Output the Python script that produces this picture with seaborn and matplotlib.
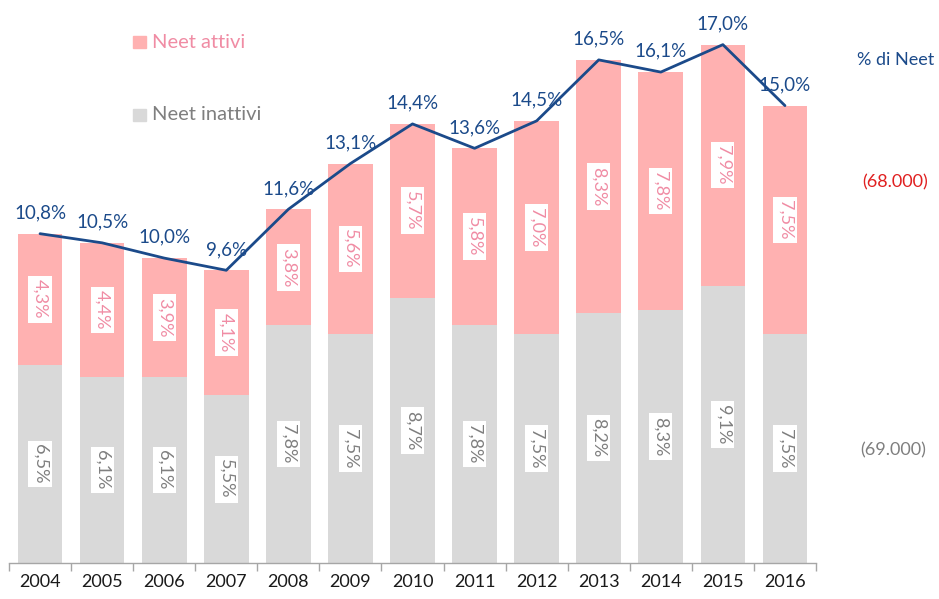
import matplotlib
matplotlib.use("Agg")
import matplotlib.pyplot as plt
import seaborn as sns
import pandas as pd
import numpy as np
from matplotlib.patches import Rectangle

years = ["2004", "2005", "2006", "2007", "2008", "2009", "2010", "2011", "2012", "2013", "2014", "2015", "2016"]
inattivi = [6.5, 6.1, 6.1, 5.5, 7.8, 7.5, 8.7, 7.8, 7.5, 8.2, 8.3, 9.1, 7.5]
attivi = [4.3, 4.4, 3.9, 4.1, 3.8, 5.6, 5.7, 5.8, 7.0, 8.3, 7.8, 7.9, 7.5]
neet = [10.8, 10.5, 10.0, 9.6, 11.6, 13.1, 14.4, 13.6, 14.5, 16.5, 16.1, 17.0, 15.0]

PINK = "#FFB1B1"
GRAY = "#D9D9D9"
PINK_TXT = "#F08CA4"
GRAY_TXT = "#7F7F7F"
BLUE = "#1B4A8A"
FONT = "Lato"

sns.set_theme(style="white")
plt.rcParams["font.family"] = [FONT, "DejaVu Sans"]

def fmt(v):
    return f"{v:.1f}".replace(".", ",") + "%"

df = pd.DataFrame({"year": years, "inattivi": inattivi, "attivi": attivi,
                   "total": np.array(inattivi) + np.array(attivi), "neet": neet})

fig = plt.figure(figsize=(9.39, 5.99), dpi=100)
ax = fig.add_axes([9/939, 36/599, (816-9)/939, (563-5)/599])

sns.barplot(data=df, x="year", y="total", color=PINK, width=0.72, ax=ax,
            saturation=1, linewidth=0)
sns.barplot(data=df, x="year", y="inattivi", color=GRAY, width=0.72, ax=ax,
            saturation=1, linewidth=0)

x = np.arange(len(years))
ax.plot(x, df["neet"], color=BLUE, lw=2, zorder=5)

for i in range(len(years)):
    ax.text(i, neet[i] + 0.68, fmt(neet[i]), ha="center", va="center",
            fontsize=13.5, color=BLUE, zorder=6)
    ax.text(i, inattivi[i] / 2, fmt(inattivi[i]), ha="center", va="center",
            rotation=270, fontsize=13, color=GRAY_TXT, zorder=4,
            bbox=dict(boxstyle="square,pad=0.2", fc="white", ec="none"))
    ax.text(i, inattivi[i] + attivi[i] / 2, fmt(attivi[i]), ha="center", va="center",
            rotation=270, fontsize=13, color=PINK_TXT, zorder=4,
            bbox=dict(boxstyle="square,pad=0.2", fc="white", ec="none"))

ax.set_xlim(-0.5, len(years) - 0.5)
ax.set_ylim(0, 18.3)
ax.set_xlabel("")
ax.set_ylabel("")
ax.set_yticks([])
for s in ["left", "right", "top"]:
    ax.spines[s].set_visible(False)
ax.spines["bottom"].set_color("#A6A6A6")
ax.spines["bottom"].set_linewidth(1)
ax.set_xticks(x)
ax.set_xticklabels(years)
ax.tick_params(axis="x", which="major", length=0, labelsize=13, labelcolor="#1a1a1a", pad=8)
ax.set_xticks(np.arange(-0.5, len(years)), minor=True)
ax.tick_params(axis="x", which="minor", length=6, color="#A6A6A6", width=1, bottom=True)

# legend
fig.patches.append(Rectangle((133/939, 1 - 48/599), 13/939, 12/599,
                             transform=fig.transFigure, color=PINK))
fig.text(152/939, 1 - 42/599, "Neet attivi", fontsize=14.5, color=PINK_TXT, va="center", ha="left")
fig.patches.append(Rectangle((133/939, 1 - 121/599), 13/939, 12/599,
                             transform=fig.transFigure, color=GRAY))
fig.text(152/939, 1 - 115/599, "Neet inattivi", fontsize=14.5, color=GRAY_TXT, va="center", ha="left")

fig.text(896/939, 1 - 60/599, "% di Neet", fontsize=13, color=BLUE, ha="center", va="center")
fig.text(895/939, 1 - 182/599, "(68.000)", fontsize=13, color="#E02020", ha="center", va="center")
fig.text(893/939, 1 - 450/599, "(69.000)", fontsize=13, color=GRAY_TXT, ha="center", va="center")

fig.savefig("out.png", dpi=100, facecolor="white")
